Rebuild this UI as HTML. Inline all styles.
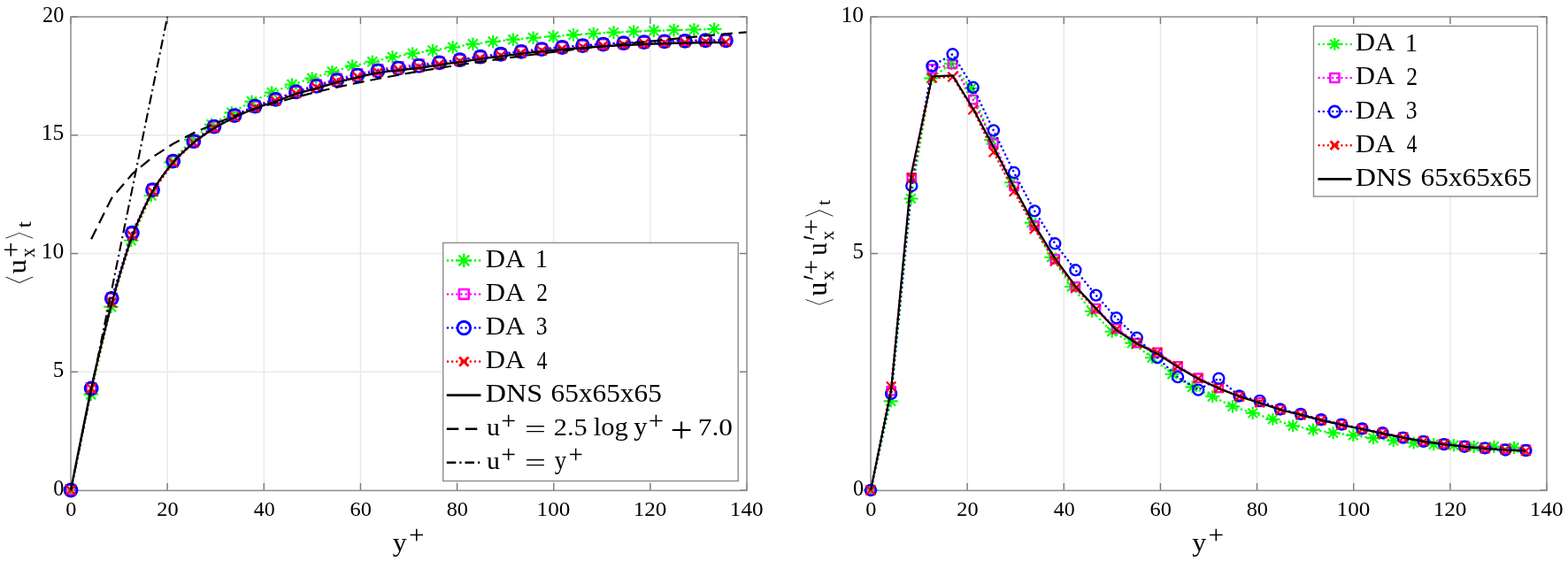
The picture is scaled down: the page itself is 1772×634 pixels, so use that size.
<!DOCTYPE html>
<html><head><meta charset="utf-8"><title>plot</title>
<style>html,body{margin:0;padding:0;background:#fff;overflow:hidden;}svg{display:block;}</style>
</head><body>
<svg width="1772" height="634" viewBox="0 0 1772 634">
<rect x="0" y="0" width="1772" height="634" fill="#fff"/>
<line x1="189.14" y1="19.00" x2="189.14" y2="554.00" stroke="#e8e8e8" stroke-width="1.4"/>
<line x1="298.29" y1="19.00" x2="298.29" y2="554.00" stroke="#e8e8e8" stroke-width="1.4"/>
<line x1="407.43" y1="19.00" x2="407.43" y2="554.00" stroke="#e8e8e8" stroke-width="1.4"/>
<line x1="516.57" y1="19.00" x2="516.57" y2="554.00" stroke="#e8e8e8" stroke-width="1.4"/>
<line x1="625.71" y1="19.00" x2="625.71" y2="554.00" stroke="#e8e8e8" stroke-width="1.4"/>
<line x1="734.86" y1="19.00" x2="734.86" y2="554.00" stroke="#e8e8e8" stroke-width="1.4"/>
<line x1="80.00" y1="420.25" x2="844.00" y2="420.25" stroke="#e8e8e8" stroke-width="1.4"/>
<line x1="80.00" y1="286.50" x2="844.00" y2="286.50" stroke="#e8e8e8" stroke-width="1.4"/>
<line x1="80.00" y1="152.75" x2="844.00" y2="152.75" stroke="#e8e8e8" stroke-width="1.4"/>
<line x1="80.00" y1="554.00" x2="80.00" y2="546.00" stroke="#7a7a7a" stroke-width="1.4"/>
<line x1="80.00" y1="19.00" x2="80.00" y2="27.00" stroke="#7a7a7a" stroke-width="1.4"/>
<text transform="translate(74.24 583.23) scale(1.0095 1)" font-size="24.00" font-family='"Liberation Serif", serif' fill="#000">0</text>
<line x1="189.14" y1="554.00" x2="189.14" y2="546.00" stroke="#7a7a7a" stroke-width="1.4"/>
<line x1="189.14" y1="19.00" x2="189.14" y2="27.00" stroke="#7a7a7a" stroke-width="1.4"/>
<text transform="translate(177.28 583.23) scale(1.0133 1)" font-size="24.00" font-family='"Liberation Serif", serif' fill="#000">20</text>
<line x1="298.29" y1="554.00" x2="298.29" y2="546.00" stroke="#7a7a7a" stroke-width="1.4"/>
<line x1="298.29" y1="19.00" x2="298.29" y2="27.00" stroke="#7a7a7a" stroke-width="1.4"/>
<text transform="translate(286.81 583.23) scale(0.9967 1)" font-size="24.00" font-family='"Liberation Serif", serif' fill="#000">40</text>
<line x1="407.43" y1="554.00" x2="407.43" y2="546.00" stroke="#7a7a7a" stroke-width="1.4"/>
<line x1="407.43" y1="19.00" x2="407.43" y2="27.00" stroke="#7a7a7a" stroke-width="1.4"/>
<text transform="translate(395.57 583.23) scale(1.0133 1)" font-size="24.00" font-family='"Liberation Serif", serif' fill="#000">60</text>
<line x1="516.57" y1="554.00" x2="516.57" y2="546.00" stroke="#7a7a7a" stroke-width="1.4"/>
<line x1="516.57" y1="19.00" x2="516.57" y2="27.00" stroke="#7a7a7a" stroke-width="1.4"/>
<text transform="translate(504.71 583.23) scale(1.0133 1)" font-size="24.00" font-family='"Liberation Serif", serif' fill="#000">80</text>
<line x1="625.71" y1="554.00" x2="625.71" y2="546.00" stroke="#7a7a7a" stroke-width="1.4"/>
<line x1="625.71" y1="19.00" x2="625.71" y2="27.00" stroke="#7a7a7a" stroke-width="1.4"/>
<text transform="translate(606.55 583.23) scale(1.0487 1)" font-size="24.00" font-family='"Liberation Serif", serif' fill="#000">100</text>
<line x1="734.86" y1="554.00" x2="734.86" y2="546.00" stroke="#7a7a7a" stroke-width="1.4"/>
<line x1="734.86" y1="19.00" x2="734.86" y2="27.00" stroke="#7a7a7a" stroke-width="1.4"/>
<text transform="translate(715.69 583.23) scale(1.0487 1)" font-size="24.00" font-family='"Liberation Serif", serif' fill="#000">120</text>
<line x1="844.00" y1="554.00" x2="844.00" y2="546.00" stroke="#7a7a7a" stroke-width="1.4"/>
<line x1="844.00" y1="19.00" x2="844.00" y2="27.00" stroke="#7a7a7a" stroke-width="1.4"/>
<text transform="translate(824.83 583.23) scale(1.0487 1)" font-size="24.00" font-family='"Liberation Serif", serif' fill="#000">140</text>
<line x1="80.00" y1="554.00" x2="88.00" y2="554.00" stroke="#7a7a7a" stroke-width="1.4"/>
<line x1="844.00" y1="554.00" x2="836.00" y2="554.00" stroke="#7a7a7a" stroke-width="1.4"/>
<text transform="translate(60.24 559.61) scale(0.9741 1)" font-size="24.87" font-family='"Liberation Serif", serif' fill="#000">0</text>
<line x1="80.00" y1="420.25" x2="88.00" y2="420.25" stroke="#7a7a7a" stroke-width="1.4"/>
<line x1="844.00" y1="420.25" x2="836.00" y2="420.25" stroke="#7a7a7a" stroke-width="1.4"/>
<text transform="translate(59.82 425.85) scale(0.9872 1)" font-size="25.45" font-family='"Liberation Serif", serif' fill="#000">5</text>
<line x1="80.00" y1="286.50" x2="88.00" y2="286.50" stroke="#7a7a7a" stroke-width="1.4"/>
<line x1="844.00" y1="286.50" x2="836.00" y2="286.50" stroke="#7a7a7a" stroke-width="1.4"/>
<text transform="translate(46.80 292.11) scale(1.0292 1)" font-size="24.87" font-family='"Liberation Serif", serif' fill="#000">10</text>
<line x1="80.00" y1="152.75" x2="88.00" y2="152.75" stroke="#7a7a7a" stroke-width="1.4"/>
<line x1="844.00" y1="152.75" x2="836.00" y2="152.75" stroke="#7a7a7a" stroke-width="1.4"/>
<text transform="translate(46.80 158.36) scale(1.0292 1)" font-size="24.87" font-family='"Liberation Serif", serif' fill="#000">15</text>
<line x1="80.00" y1="19.00" x2="88.00" y2="19.00" stroke="#7a7a7a" stroke-width="1.4"/>
<line x1="844.00" y1="19.00" x2="836.00" y2="19.00" stroke="#7a7a7a" stroke-width="1.4"/>
<text transform="translate(48.04 24.61) scale(0.9778 1)" font-size="24.87" font-family='"Liberation Serif", serif' fill="#000">20</text>
<rect x="80.00" y="19.00" width="764.00" height="535.40" fill="none" stroke="#8c8c8c" stroke-width="1.5"/>
<g><polyline points="80.00,554.00 102.72,445.66 125.44,346.69 148.17,271.79 170.89,220.96 193.61,183.51 216.33,158.10 239.05,140.71 261.77,127.34 284.50,114.76 307.22,104.60 329.94,95.50 352.66,88.55 375.38,81.06 398.11,74.64 420.83,69.82 443.55,64.48 466.27,60.46 488.99,56.99 511.71,53.51 534.44,49.76 557.16,47.09 579.88,44.68 602.60,42.81 625.32,41.20 648.04,39.33 670.77,37.99 693.49,36.65 716.21,35.59 738.93,34.78 761.65,33.98 784.38,33.44 807.10,32.91" fill="none" stroke="#00ff00" stroke-width="2.50" stroke-dasharray="0.01 5.15" stroke-linecap="round" stroke-linejoin="round"/>
<path d="M71.68 554.00L88.32 554.00M80.00 546.70L80.00 561.30M74.53 548.52L85.47 559.48M74.53 559.48L85.47 548.52" stroke="#00ff00" stroke-width="2.10"/>
<path d="M94.40 445.66L111.04 445.66M102.72 438.36L102.72 452.96M97.25 440.19L108.20 451.14M97.25 451.14L108.20 440.19" stroke="#00ff00" stroke-width="2.10"/>
<path d="M117.12 346.69L133.77 346.69M125.44 339.39L125.44 353.99M119.97 341.21L130.92 352.16M119.97 352.16L130.92 341.21" stroke="#00ff00" stroke-width="2.10"/>
<path d="M139.84 271.79L156.49 271.79M148.17 264.49L148.17 279.09M142.69 266.31L153.64 277.26M142.69 277.26L153.64 266.31" stroke="#00ff00" stroke-width="2.10"/>
<path d="M162.57 220.96L179.21 220.96M170.89 213.66L170.89 228.26M165.41 215.49L176.36 226.44M165.41 226.44L176.36 215.49" stroke="#00ff00" stroke-width="2.10"/>
<path d="M185.29 183.51L201.93 183.51M193.61 176.21L193.61 190.81M188.13 178.04L199.08 188.99M188.13 188.99L199.08 178.04" stroke="#00ff00" stroke-width="2.10"/>
<path d="M208.01 158.10L224.65 158.10M216.33 150.80L216.33 165.40M210.86 152.63L221.81 163.58M210.86 163.58L221.81 152.63" stroke="#00ff00" stroke-width="2.10"/>
<path d="M230.73 140.71L247.37 140.71M239.05 133.41L239.05 148.01M233.58 135.24L244.53 146.19M233.58 146.19L244.53 135.24" stroke="#00ff00" stroke-width="2.10"/>
<path d="M253.45 127.34L270.10 127.34M261.77 120.04L261.77 134.64M256.30 121.86L267.25 132.81M256.30 132.81L267.25 121.86" stroke="#00ff00" stroke-width="2.10"/>
<path d="M276.17 114.76L292.82 114.76M284.50 107.46L284.50 122.06M279.02 109.29L289.97 120.24M279.02 120.24L289.97 109.29" stroke="#00ff00" stroke-width="2.10"/>
<path d="M298.90 104.60L315.54 104.60M307.22 97.30L307.22 111.90M301.74 99.13L312.69 110.08M301.74 110.08L312.69 99.13" stroke="#00ff00" stroke-width="2.10"/>
<path d="M321.62 95.50L338.26 95.50M329.94 88.20L329.94 102.80M324.46 90.03L335.41 100.98M324.46 100.98L335.41 90.03" stroke="#00ff00" stroke-width="2.10"/>
<path d="M344.34 88.55L360.98 88.55M352.66 81.25L352.66 95.85M347.19 83.08L358.14 94.03M347.19 94.03L358.14 83.08" stroke="#00ff00" stroke-width="2.10"/>
<path d="M367.06 81.06L383.71 81.06M375.38 73.76L375.38 88.36M369.91 75.59L380.86 86.54M369.91 86.54L380.86 75.59" stroke="#00ff00" stroke-width="2.10"/>
<path d="M389.78 74.64L406.43 74.64M398.11 67.34L398.11 81.94M392.63 69.16L403.58 80.11M392.63 80.11L403.58 69.16" stroke="#00ff00" stroke-width="2.10"/>
<path d="M412.50 69.82L429.15 69.82M420.83 62.52L420.83 77.12M415.35 64.35L426.30 75.30M415.35 75.30L426.30 64.35" stroke="#00ff00" stroke-width="2.10"/>
<path d="M435.23 64.48L451.87 64.48M443.55 57.18L443.55 71.78M438.07 59.00L449.02 69.95M438.07 69.95L449.02 59.00" stroke="#00ff00" stroke-width="2.10"/>
<path d="M457.95 60.46L474.59 60.46M466.27 53.16L466.27 67.76M460.80 54.99L471.75 65.94M460.80 65.94L471.75 54.99" stroke="#00ff00" stroke-width="2.10"/>
<path d="M480.67 56.99L497.31 56.99M488.99 49.69L488.99 64.29M483.52 51.51L494.47 62.46M483.52 62.46L494.47 51.51" stroke="#00ff00" stroke-width="2.10"/>
<path d="M503.39 53.51L520.04 53.51M511.71 46.21L511.71 60.81M506.24 48.03L517.19 58.98M506.24 58.98L517.19 48.03" stroke="#00ff00" stroke-width="2.10"/>
<path d="M526.11 49.76L542.76 49.76M534.44 42.46L534.44 57.06M528.96 44.29L539.91 55.24M528.96 55.24L539.91 44.29" stroke="#00ff00" stroke-width="2.10"/>
<path d="M548.84 47.09L565.48 47.09M557.16 39.79L557.16 54.39M551.68 41.61L562.63 52.56M551.68 52.56L562.63 41.61" stroke="#00ff00" stroke-width="2.10"/>
<path d="M571.56 44.68L588.20 44.68M579.88 37.38L579.88 51.98M574.40 39.21L585.35 50.16M574.40 50.16L585.35 39.21" stroke="#00ff00" stroke-width="2.10"/>
<path d="M594.28 42.81L610.92 42.81M602.60 35.51L602.60 50.11M597.13 37.33L608.08 48.28M597.13 48.28L608.08 37.33" stroke="#00ff00" stroke-width="2.10"/>
<path d="M617.00 41.20L633.65 41.20M625.32 33.90L625.32 48.50M619.85 35.73L630.80 46.68M619.85 46.68L630.80 35.73" stroke="#00ff00" stroke-width="2.10"/>
<path d="M639.72 39.33L656.37 39.33M648.04 32.03L648.04 46.63M642.57 33.86L653.52 44.81M642.57 44.81L653.52 33.86" stroke="#00ff00" stroke-width="2.10"/>
<path d="M662.44 37.99L679.09 37.99M670.77 30.69L670.77 45.29M665.29 32.52L676.24 43.47M665.29 43.47L676.24 32.52" stroke="#00ff00" stroke-width="2.10"/>
<path d="M685.17 36.65L701.81 36.65M693.49 29.35L693.49 43.95M688.01 31.18L698.96 42.13M688.01 42.13L698.96 31.18" stroke="#00ff00" stroke-width="2.10"/>
<path d="M707.89 35.59L724.53 35.59M716.21 28.29L716.21 42.89M710.74 30.11L721.69 41.06M710.74 41.06L721.69 30.11" stroke="#00ff00" stroke-width="2.10"/>
<path d="M730.61 34.78L747.25 34.78M738.93 27.48L738.93 42.08M733.46 29.31L744.41 40.26M733.46 40.26L744.41 29.31" stroke="#00ff00" stroke-width="2.10"/>
<path d="M753.33 33.98L769.98 33.98M761.65 26.68L761.65 41.28M756.18 28.50L767.13 39.45M756.18 39.45L767.13 28.50" stroke="#00ff00" stroke-width="2.10"/>
<path d="M776.05 33.44L792.70 33.44M784.38 26.14L784.38 40.74M778.90 27.97L789.85 38.92M778.90 38.92L789.85 27.97" stroke="#00ff00" stroke-width="2.10"/>
<path d="M798.78 32.91L815.42 32.91M807.10 25.61L807.10 40.21M801.62 27.43L812.57 38.38M801.62 38.38L812.57 27.43" stroke="#00ff00" stroke-width="2.10"/>
<polyline points="80.00,553.47 103.14,438.44 126.28,336.79 149.41,262.69 172.55,214.01 195.69,181.64 218.83,159.17 241.97,142.59 265.11,130.01 288.24,119.58 311.38,111.82 334.52,103.26 357.66,95.77 380.80,89.09 403.94,83.47 427.07,78.39 450.21,75.44 473.35,72.77 496.49,70.36 519.63,67.15 542.77,63.67 565.90,60.73 589.04,57.79 612.18,55.11 635.32,52.97 658.46,51.10 681.60,49.50 704.73,48.16 727.87,47.09 751.01,46.28 774.15,45.75 797.29,45.22 820.43,45.22" fill="none" stroke="#ff00ff" stroke-width="2.50" stroke-dasharray="0.01 5.15" stroke-linecap="round" stroke-linejoin="round"/>
<rect x="74.70" y="548.17" width="10.60" height="10.60" fill="none" stroke="#ff00ff" stroke-width="2.40" stroke-linejoin="round"/>
<rect x="97.84" y="433.14" width="10.60" height="10.60" fill="none" stroke="#ff00ff" stroke-width="2.40" stroke-linejoin="round"/>
<rect x="120.98" y="331.49" width="10.60" height="10.60" fill="none" stroke="#ff00ff" stroke-width="2.40" stroke-linejoin="round"/>
<rect x="144.11" y="257.39" width="10.60" height="10.60" fill="none" stroke="#ff00ff" stroke-width="2.40" stroke-linejoin="round"/>
<rect x="167.25" y="208.71" width="10.60" height="10.60" fill="none" stroke="#ff00ff" stroke-width="2.40" stroke-linejoin="round"/>
<rect x="190.39" y="176.34" width="10.60" height="10.60" fill="none" stroke="#ff00ff" stroke-width="2.40" stroke-linejoin="round"/>
<rect x="213.53" y="153.87" width="10.60" height="10.60" fill="none" stroke="#ff00ff" stroke-width="2.40" stroke-linejoin="round"/>
<rect x="236.67" y="137.29" width="10.60" height="10.60" fill="none" stroke="#ff00ff" stroke-width="2.40" stroke-linejoin="round"/>
<rect x="259.81" y="124.71" width="10.60" height="10.60" fill="none" stroke="#ff00ff" stroke-width="2.40" stroke-linejoin="round"/>
<rect x="282.94" y="114.28" width="10.60" height="10.60" fill="none" stroke="#ff00ff" stroke-width="2.40" stroke-linejoin="round"/>
<rect x="306.08" y="106.52" width="10.60" height="10.60" fill="none" stroke="#ff00ff" stroke-width="2.40" stroke-linejoin="round"/>
<rect x="329.22" y="97.96" width="10.60" height="10.60" fill="none" stroke="#ff00ff" stroke-width="2.40" stroke-linejoin="round"/>
<rect x="352.36" y="90.47" width="10.60" height="10.60" fill="none" stroke="#ff00ff" stroke-width="2.40" stroke-linejoin="round"/>
<rect x="375.50" y="83.79" width="10.60" height="10.60" fill="none" stroke="#ff00ff" stroke-width="2.40" stroke-linejoin="round"/>
<rect x="398.64" y="78.17" width="10.60" height="10.60" fill="none" stroke="#ff00ff" stroke-width="2.40" stroke-linejoin="round"/>
<rect x="421.77" y="73.09" width="10.60" height="10.60" fill="none" stroke="#ff00ff" stroke-width="2.40" stroke-linejoin="round"/>
<rect x="444.91" y="70.14" width="10.60" height="10.60" fill="none" stroke="#ff00ff" stroke-width="2.40" stroke-linejoin="round"/>
<rect x="468.05" y="67.47" width="10.60" height="10.60" fill="none" stroke="#ff00ff" stroke-width="2.40" stroke-linejoin="round"/>
<rect x="491.19" y="65.06" width="10.60" height="10.60" fill="none" stroke="#ff00ff" stroke-width="2.40" stroke-linejoin="round"/>
<rect x="514.33" y="61.85" width="10.60" height="10.60" fill="none" stroke="#ff00ff" stroke-width="2.40" stroke-linejoin="round"/>
<rect x="537.47" y="58.37" width="10.60" height="10.60" fill="none" stroke="#ff00ff" stroke-width="2.40" stroke-linejoin="round"/>
<rect x="560.60" y="55.43" width="10.60" height="10.60" fill="none" stroke="#ff00ff" stroke-width="2.40" stroke-linejoin="round"/>
<rect x="583.74" y="52.49" width="10.60" height="10.60" fill="none" stroke="#ff00ff" stroke-width="2.40" stroke-linejoin="round"/>
<rect x="606.88" y="49.81" width="10.60" height="10.60" fill="none" stroke="#ff00ff" stroke-width="2.40" stroke-linejoin="round"/>
<rect x="630.02" y="47.67" width="10.60" height="10.60" fill="none" stroke="#ff00ff" stroke-width="2.40" stroke-linejoin="round"/>
<rect x="653.16" y="45.80" width="10.60" height="10.60" fill="none" stroke="#ff00ff" stroke-width="2.40" stroke-linejoin="round"/>
<rect x="676.30" y="44.20" width="10.60" height="10.60" fill="none" stroke="#ff00ff" stroke-width="2.40" stroke-linejoin="round"/>
<rect x="699.43" y="42.86" width="10.60" height="10.60" fill="none" stroke="#ff00ff" stroke-width="2.40" stroke-linejoin="round"/>
<rect x="722.57" y="41.79" width="10.60" height="10.60" fill="none" stroke="#ff00ff" stroke-width="2.40" stroke-linejoin="round"/>
<rect x="745.71" y="40.98" width="10.60" height="10.60" fill="none" stroke="#ff00ff" stroke-width="2.40" stroke-linejoin="round"/>
<rect x="768.85" y="40.45" width="10.60" height="10.60" fill="none" stroke="#ff00ff" stroke-width="2.40" stroke-linejoin="round"/>
<rect x="791.99" y="39.92" width="10.60" height="10.60" fill="none" stroke="#ff00ff" stroke-width="2.40" stroke-linejoin="round"/>
<rect x="815.13" y="39.92" width="10.60" height="10.60" fill="none" stroke="#ff00ff" stroke-width="2.40" stroke-linejoin="round"/>
<polyline points="80.00,554.00 103.14,438.98 126.28,337.32 149.41,263.23 172.55,214.54 195.69,182.18 218.83,159.70 241.97,143.12 265.11,130.55 288.24,120.12 311.38,112.36 334.52,103.80 357.66,97.38 380.80,90.69 403.94,85.07 427.07,79.99 450.21,77.05 473.35,74.37 496.49,70.90 519.63,67.69 542.77,64.21 565.90,61.26 589.04,58.32 612.18,55.65 635.32,53.51 658.46,51.63 681.60,50.03 704.73,48.69 727.87,47.62 751.01,46.82 774.15,46.28 797.29,45.75 820.43,45.75" fill="none" stroke="#0000ff" stroke-width="2.50" stroke-dasharray="0.01 5.15" stroke-linecap="round" stroke-linejoin="round"/>
<circle cx="80.00" cy="554.00" r="7.10" fill="none" stroke="#0000ff" stroke-width="2.60"/>
<circle cx="103.14" cy="438.98" r="7.10" fill="none" stroke="#0000ff" stroke-width="2.60"/>
<circle cx="126.28" cy="337.32" r="7.10" fill="none" stroke="#0000ff" stroke-width="2.60"/>
<circle cx="149.41" cy="263.23" r="7.10" fill="none" stroke="#0000ff" stroke-width="2.60"/>
<circle cx="172.55" cy="214.54" r="7.10" fill="none" stroke="#0000ff" stroke-width="2.60"/>
<circle cx="195.69" cy="182.18" r="7.10" fill="none" stroke="#0000ff" stroke-width="2.60"/>
<circle cx="218.83" cy="159.70" r="7.10" fill="none" stroke="#0000ff" stroke-width="2.60"/>
<circle cx="241.97" cy="143.12" r="7.10" fill="none" stroke="#0000ff" stroke-width="2.60"/>
<circle cx="265.11" cy="130.55" r="7.10" fill="none" stroke="#0000ff" stroke-width="2.60"/>
<circle cx="288.24" cy="120.12" r="7.10" fill="none" stroke="#0000ff" stroke-width="2.60"/>
<circle cx="311.38" cy="112.36" r="7.10" fill="none" stroke="#0000ff" stroke-width="2.60"/>
<circle cx="334.52" cy="103.80" r="7.10" fill="none" stroke="#0000ff" stroke-width="2.60"/>
<circle cx="357.66" cy="97.38" r="7.10" fill="none" stroke="#0000ff" stroke-width="2.60"/>
<circle cx="380.80" cy="90.69" r="7.10" fill="none" stroke="#0000ff" stroke-width="2.60"/>
<circle cx="403.94" cy="85.07" r="7.10" fill="none" stroke="#0000ff" stroke-width="2.60"/>
<circle cx="427.07" cy="79.99" r="7.10" fill="none" stroke="#0000ff" stroke-width="2.60"/>
<circle cx="450.21" cy="77.05" r="7.10" fill="none" stroke="#0000ff" stroke-width="2.60"/>
<circle cx="473.35" cy="74.37" r="7.10" fill="none" stroke="#0000ff" stroke-width="2.60"/>
<circle cx="496.49" cy="70.90" r="7.10" fill="none" stroke="#0000ff" stroke-width="2.60"/>
<circle cx="519.63" cy="67.69" r="7.10" fill="none" stroke="#0000ff" stroke-width="2.60"/>
<circle cx="542.77" cy="64.21" r="7.10" fill="none" stroke="#0000ff" stroke-width="2.60"/>
<circle cx="565.90" cy="61.26" r="7.10" fill="none" stroke="#0000ff" stroke-width="2.60"/>
<circle cx="589.04" cy="58.32" r="7.10" fill="none" stroke="#0000ff" stroke-width="2.60"/>
<circle cx="612.18" cy="55.65" r="7.10" fill="none" stroke="#0000ff" stroke-width="2.60"/>
<circle cx="635.32" cy="53.51" r="7.10" fill="none" stroke="#0000ff" stroke-width="2.60"/>
<circle cx="658.46" cy="51.63" r="7.10" fill="none" stroke="#0000ff" stroke-width="2.60"/>
<circle cx="681.60" cy="50.03" r="7.10" fill="none" stroke="#0000ff" stroke-width="2.60"/>
<circle cx="704.73" cy="48.69" r="7.10" fill="none" stroke="#0000ff" stroke-width="2.60"/>
<circle cx="727.87" cy="47.62" r="7.10" fill="none" stroke="#0000ff" stroke-width="2.60"/>
<circle cx="751.01" cy="46.82" r="7.10" fill="none" stroke="#0000ff" stroke-width="2.60"/>
<circle cx="774.15" cy="46.28" r="7.10" fill="none" stroke="#0000ff" stroke-width="2.60"/>
<circle cx="797.29" cy="45.75" r="7.10" fill="none" stroke="#0000ff" stroke-width="2.60"/>
<circle cx="820.43" cy="45.75" r="7.10" fill="none" stroke="#0000ff" stroke-width="2.60"/>
<polyline points="80.00,554.00 103.14,438.98 126.28,342.14 149.41,266.44 172.55,216.68 195.69,183.78 218.83,161.31 241.97,144.73 265.11,132.15 288.24,121.72 311.38,113.96 334.52,105.40 357.66,98.98 380.80,92.29 403.94,86.68 427.07,81.59 450.21,78.65 473.35,75.98 496.49,72.50 519.63,69.29 542.77,65.81 565.90,62.87 589.04,59.93 612.18,57.25 635.32,55.11 658.46,53.24 681.60,51.63 704.73,50.30 727.87,49.23 751.01,48.42 774.15,47.89 797.29,47.35 820.43,47.35" fill="none" stroke="#ff0000" stroke-width="2.50" stroke-dasharray="0.01 5.15" stroke-linecap="round" stroke-linejoin="round"/>
<path d="M74.60 548.60L85.40 559.40M74.60 559.40L85.40 548.60" stroke="#ff0000" stroke-width="2.20"/>
<path d="M97.74 433.58L108.54 444.38M97.74 444.38L108.54 433.58" stroke="#ff0000" stroke-width="2.20"/>
<path d="M120.88 336.74L131.68 347.54M120.88 347.54L131.68 336.74" stroke="#ff0000" stroke-width="2.20"/>
<path d="M144.01 261.04L154.81 271.84M144.01 271.84L154.81 261.04" stroke="#ff0000" stroke-width="2.20"/>
<path d="M167.15 211.28L177.95 222.08M167.15 222.08L177.95 211.28" stroke="#ff0000" stroke-width="2.20"/>
<path d="M190.29 178.38L201.09 189.18M190.29 189.18L201.09 178.38" stroke="#ff0000" stroke-width="2.20"/>
<path d="M213.43 155.91L224.23 166.71M213.43 166.71L224.23 155.91" stroke="#ff0000" stroke-width="2.20"/>
<path d="M236.57 139.33L247.37 150.13M236.57 150.13L247.37 139.33" stroke="#ff0000" stroke-width="2.20"/>
<path d="M259.71 126.75L270.51 137.55M259.71 137.55L270.51 126.75" stroke="#ff0000" stroke-width="2.20"/>
<path d="M282.84 116.32L293.64 127.12M282.84 127.12L293.64 116.32" stroke="#ff0000" stroke-width="2.20"/>
<path d="M305.98 108.56L316.78 119.36M305.98 119.36L316.78 108.56" stroke="#ff0000" stroke-width="2.20"/>
<path d="M329.12 100.00L339.92 110.80M329.12 110.80L339.92 100.00" stroke="#ff0000" stroke-width="2.20"/>
<path d="M352.26 93.58L363.06 104.38M352.26 104.38L363.06 93.58" stroke="#ff0000" stroke-width="2.20"/>
<path d="M375.40 86.89L386.20 97.69M375.40 97.69L386.20 86.89" stroke="#ff0000" stroke-width="2.20"/>
<path d="M398.54 81.28L409.34 92.08M398.54 92.08L409.34 81.28" stroke="#ff0000" stroke-width="2.20"/>
<path d="M421.67 76.19L432.47 86.99M421.67 86.99L432.47 76.19" stroke="#ff0000" stroke-width="2.20"/>
<path d="M444.81 73.25L455.61 84.05M444.81 84.05L455.61 73.25" stroke="#ff0000" stroke-width="2.20"/>
<path d="M467.95 70.58L478.75 81.38M467.95 81.38L478.75 70.58" stroke="#ff0000" stroke-width="2.20"/>
<path d="M491.09 67.10L501.89 77.90M491.09 77.90L501.89 67.10" stroke="#ff0000" stroke-width="2.20"/>
<path d="M514.23 63.89L525.03 74.69M514.23 74.69L525.03 63.89" stroke="#ff0000" stroke-width="2.20"/>
<path d="M537.37 60.41L548.17 71.21M537.37 71.21L548.17 60.41" stroke="#ff0000" stroke-width="2.20"/>
<path d="M560.50 57.47L571.30 68.27M560.50 68.27L571.30 57.47" stroke="#ff0000" stroke-width="2.20"/>
<path d="M583.64 54.53L594.44 65.33M583.64 65.33L594.44 54.53" stroke="#ff0000" stroke-width="2.20"/>
<path d="M606.78 51.85L617.58 62.65M606.78 62.65L617.58 51.85" stroke="#ff0000" stroke-width="2.20"/>
<path d="M629.92 49.71L640.72 60.51M629.92 60.51L640.72 49.71" stroke="#ff0000" stroke-width="2.20"/>
<path d="M653.06 47.84L663.86 58.64M653.06 58.64L663.86 47.84" stroke="#ff0000" stroke-width="2.20"/>
<path d="M676.20 46.23L687.00 57.03M676.20 57.03L687.00 46.23" stroke="#ff0000" stroke-width="2.20"/>
<path d="M699.33 44.90L710.13 55.70M699.33 55.70L710.13 44.90" stroke="#ff0000" stroke-width="2.20"/>
<path d="M722.47 43.83L733.27 54.63M722.47 54.63L733.27 43.83" stroke="#ff0000" stroke-width="2.20"/>
<path d="M745.61 43.02L756.41 53.82M745.61 53.82L756.41 43.02" stroke="#ff0000" stroke-width="2.20"/>
<path d="M768.75 42.49L779.55 53.29M768.75 53.29L779.55 42.49" stroke="#ff0000" stroke-width="2.20"/>
<path d="M791.89 41.95L802.69 52.75M791.89 52.75L802.69 41.95" stroke="#ff0000" stroke-width="2.20"/>
<path d="M815.03 41.95L825.83 52.75M815.03 52.75L825.83 41.95" stroke="#ff0000" stroke-width="2.20"/>
<path d="M80.00 554.00C87.71 515.66 95.43 474.11 103.14 438.98C110.85 403.84 118.56 371.88 126.28 343.21C133.99 314.54 141.70 288.15 149.41 266.97C157.13 245.80 164.84 230.06 172.55 216.15C180.27 202.24 187.98 192.65 195.69 183.51C203.40 174.37 211.12 167.73 218.83 161.31C226.54 154.89 234.26 149.76 241.97 144.99C249.68 140.22 257.39 136.43 265.11 132.69C272.82 128.94 280.53 125.51 288.24 122.52C295.96 119.54 303.67 117.48 311.38 114.76C319.10 112.05 326.81 108.70 334.52 106.21C342.23 103.71 349.95 101.97 357.66 99.78C365.37 97.60 373.08 95.15 380.80 93.10C388.51 91.05 396.22 89.26 403.94 87.48C411.65 85.70 419.36 83.74 427.07 82.40C434.79 81.06 442.50 80.39 450.21 79.46C457.93 78.52 465.64 77.81 473.35 76.78C481.06 75.75 488.78 74.42 496.49 73.30C504.20 72.19 511.91 71.21 519.63 70.09C527.34 68.98 535.05 67.69 542.77 66.62C550.48 65.55 558.19 64.65 565.90 63.67C573.62 62.69 581.33 61.67 589.04 60.73C596.76 59.79 604.47 58.86 612.18 58.06C619.89 57.25 627.61 56.58 635.32 55.91C643.03 55.25 650.74 54.62 658.46 54.04C666.17 53.46 673.88 52.93 681.60 52.44C689.31 51.95 697.02 51.50 704.73 51.10C712.45 50.70 720.16 50.34 727.87 50.03C735.58 49.72 743.30 49.45 751.01 49.23C758.72 49.00 766.44 48.87 774.15 48.69C781.86 48.51 789.57 48.25 797.29 48.16C805.00 48.07 812.71 48.16 820.43 48.16" fill="none" stroke="#000" stroke-width="2.3" stroke-linejoin="round"/>
<polyline points="103.14,270.14 126.28,223.79 149.41,196.68 172.55,177.44 195.69,162.51 218.83,150.32 241.97,140.01 265.11,131.08 288.24,123.21 311.38,116.16 334.52,109.79 357.66,103.97 380.80,98.61 403.94,93.66 427.07,89.04 450.21,84.73 473.35,80.67 496.49,76.85 519.63,73.24 542.77,69.81 565.90,66.54 589.04,63.43 612.18,60.46 635.32,57.61 658.46,54.88 681.60,52.26 704.73,49.74 727.87,47.30 751.01,44.96 774.15,42.69 797.29,40.50 820.43,38.37 843.56,36.32" fill="none" stroke="#000" stroke-width="2.2" stroke-dasharray="13 7" stroke-linejoin="round"/>
<polyline points="80.00,554.00 189.14,19.00" fill="none" stroke="#000" stroke-width="2.1" stroke-dasharray="11 4 2.2 4"/></g>
<rect x="500.7" y="274.4" width="333.5" height="269.2" fill="#fff" stroke="#8c8c8c" stroke-width="1.4"/>
<line x1="506.00" y1="294.40" x2="543.40" y2="294.40" stroke="#00ff00" stroke-width="2.60" stroke-dasharray="0.01 5.15" stroke-linecap="round"/>
<path d="M515.29 294.40L533.31 294.40M524.30 286.50L524.30 302.30M518.38 288.47L530.23 300.32M518.38 300.32L530.23 288.47" stroke="#00ff00" stroke-width="2.30"/>
<line x1="506.00" y1="332.47" x2="543.40" y2="332.47" stroke="#ff00ff" stroke-width="2.60" stroke-dasharray="0.01 5.15" stroke-linecap="round"/>
<rect x="518.90" y="327.07" width="10.80" height="10.80" fill="none" stroke="#ff00ff" stroke-width="2.60" stroke-linejoin="round"/>
<line x1="506.00" y1="370.54" x2="543.40" y2="370.54" stroke="#0000ff" stroke-width="2.60" stroke-dasharray="0.01 5.15" stroke-linecap="round"/>
<circle cx="524.30" cy="370.54" r="7.30" fill="none" stroke="#0000ff" stroke-width="2.90"/>
<line x1="506.00" y1="408.61" x2="543.40" y2="408.61" stroke="#ff0000" stroke-width="2.60" stroke-dasharray="0.01 5.15" stroke-linecap="round"/>
<path d="M519.10 403.41L529.50 413.81M519.10 413.81L529.50 403.41" stroke="#ff0000" stroke-width="2.90"/>
<line x1="504.80" y1="446.68" x2="543.40" y2="446.68" stroke="#000" stroke-width="2.80"/>
<line x1="504.80" y1="484.75" x2="543.40" y2="484.75" stroke="#000" stroke-width="2.60" stroke-dasharray="13.5 7.5"/>
<line x1="504.80" y1="522.82" x2="543.40" y2="522.82" stroke="#000" stroke-width="2.40" stroke-dasharray="10.5 4 2.2 4"/>
<text transform="translate(548.82 301.83) scale(1.0279 1)" font-size="29.96" font-family='"Liberation Serif", serif' fill="#000">DA</text>
<text transform="translate(604.75 302.30) scale(0.9872 1)" font-size="29.17" font-family='"Liberation Serif", serif' fill="#000">1</text>
<text transform="translate(548.82 339.90) scale(1.0279 1)" font-size="29.96" font-family='"Liberation Serif", serif' fill="#000">DA</text>
<text transform="translate(606.20 340.37) scale(0.8776 1)" font-size="29.17" font-family='"Liberation Serif", serif' fill="#000">2</text>
<text transform="translate(548.82 377.97) scale(1.0279 1)" font-size="29.96" font-family='"Liberation Serif", serif' fill="#000">DA</text>
<text transform="translate(605.80 377.99) scale(0.8980 1)" font-size="28.51" font-family='"Liberation Serif", serif' fill="#000">3</text>
<text transform="translate(548.82 416.04) scale(1.0279 1)" font-size="29.96" font-family='"Liberation Serif", serif' fill="#000">DA</text>
<text transform="translate(606.64 416.51) scale(0.7898 1)" font-size="29.17" font-family='"Liberation Serif", serif' fill="#000">4</text>
<text transform="translate(548.80 454.11) scale(1.0711 1)" font-size="29.96" font-family='"Liberation Serif", serif' fill="#000">DNS</text>
<text transform="translate(622.62 454.11) scale(1.0451 1)" font-size="29.96" font-family='"Liberation Serif", serif' fill="#000">65x65x65</text>
<text transform="translate(549.90 491.91) scale(1.0662 1)" font-size="28.08" font-family='"Liberation Serif", serif' fill="#000">u</text>
<text transform="translate(566.20 484.84) scale(1.0408 1)" font-size="28.70" font-family='"Liberation Serif", serif' fill="#000">+</text>
<text transform="translate(592.91 494.21) scale(1.5239 1)" font-size="27.86" font-family='"Liberation Serif", serif' fill="#000">=</text>
<text transform="translate(625.75 491.91) scale(1.0773 1)" font-size="28.22" font-family='"Liberation Serif", serif' fill="#000">2.5</text>
<text transform="translate(670.72 492.12) scale(1.0397 1)" font-size="29.40" font-family='"Liberation Serif", serif' fill="#000">log</text>
<text transform="translate(716.20 492.25) scale(1.0556 1)" font-size="28.80" font-family='"Liberation Serif", serif' fill="#000">y</text>
<text transform="translate(732.76 484.84) scale(1.0705 1)" font-size="28.70" font-family='"Liberation Serif", serif' fill="#000">+</text>
<text transform="translate(757.51 498.98) scale(1.0907 1)" font-size="40.88" font-family='"Liberation Serif", serif' fill="#000">+</text>
<text transform="translate(788.74 491.91) scale(1.1126 1)" font-size="28.22" font-family='"Liberation Serif", serif' fill="#000">7.0</text>
<text transform="translate(549.90 529.78) scale(1.0662 1)" font-size="28.08" font-family='"Liberation Serif", serif' fill="#000">u</text>
<text transform="translate(566.20 522.91) scale(1.0408 1)" font-size="28.70" font-family='"Liberation Serif", serif' fill="#000">+</text>
<text transform="translate(592.91 532.28) scale(1.5239 1)" font-size="27.86" font-family='"Liberation Serif", serif' fill="#000">=</text>
<text transform="translate(626.70 530.12) scale(0.9236 1)" font-size="28.80" font-family='"Liberation Serif", serif' fill="#000">y</text>
<text transform="translate(642.44 522.91) scale(1.0110 1)" font-size="28.70" font-family='"Liberation Serif", serif' fill="#000">+</text>
<text transform="translate(443.70 622.71) scale(1.0562 1)" font-size="30.11" font-family='"Liberation Serif", serif' fill="#000">y</text>
<text transform="translate(461.94 614.43) scale(1.0333 1)" font-size="30.14" font-family='"Liberation Serif", serif' fill="#000">+</text>
<g transform="translate(29.80 320.30) rotate(-90)"><text transform="translate(-8.56 5.14) scale(0.4954 1)" font-size="33.68" font-family='"Liberation Serif", "Noto Serif CJK SC", serif' fill="#000">〈</text>
<text transform="translate(10.90 -0.47) scale(1.0890 1)" font-size="30.14" font-family='"Liberation Serif", serif' fill="#000">u</text>
<text transform="translate(29.35 -7.30) scale(0.9989 1)" font-size="30.97" font-family='"Liberation Serif", serif' fill="#000">+</text>
<text transform="translate(29.40 8.90) scale(0.9375 1)" font-size="23.25" font-family='"Liberation Serif", serif' fill="#000">x</text>
<text transform="translate(50.34 5.14) scale(0.4411 1)" font-size="33.68" font-family='"Liberation Serif", "Noto Serif CJK SC", serif' fill="#000">〉</text>
<text transform="translate(62.70 5.04) scale(1.1487 1)" font-size="22.91" font-family='"Liberation Serif", serif' fill="#000">t</text></g>
<line x1="1093.14" y1="19.00" x2="1093.14" y2="554.00" stroke="#e8e8e8" stroke-width="1.4"/>
<line x1="1202.29" y1="19.00" x2="1202.29" y2="554.00" stroke="#e8e8e8" stroke-width="1.4"/>
<line x1="1311.43" y1="19.00" x2="1311.43" y2="554.00" stroke="#e8e8e8" stroke-width="1.4"/>
<line x1="1420.57" y1="19.00" x2="1420.57" y2="554.00" stroke="#e8e8e8" stroke-width="1.4"/>
<line x1="1529.71" y1="19.00" x2="1529.71" y2="554.00" stroke="#e8e8e8" stroke-width="1.4"/>
<line x1="1638.86" y1="19.00" x2="1638.86" y2="554.00" stroke="#e8e8e8" stroke-width="1.4"/>
<line x1="984.00" y1="286.50" x2="1748.00" y2="286.50" stroke="#e8e8e8" stroke-width="1.4"/>
<line x1="984.00" y1="554.00" x2="984.00" y2="546.00" stroke="#7a7a7a" stroke-width="1.4"/>
<line x1="984.00" y1="19.00" x2="984.00" y2="27.00" stroke="#7a7a7a" stroke-width="1.4"/>
<text transform="translate(978.24 583.23) scale(1.0095 1)" font-size="24.00" font-family='"Liberation Serif", serif' fill="#000">0</text>
<line x1="1093.14" y1="554.00" x2="1093.14" y2="546.00" stroke="#7a7a7a" stroke-width="1.4"/>
<line x1="1093.14" y1="19.00" x2="1093.14" y2="27.00" stroke="#7a7a7a" stroke-width="1.4"/>
<text transform="translate(1081.28 583.23) scale(1.0133 1)" font-size="24.00" font-family='"Liberation Serif", serif' fill="#000">20</text>
<line x1="1202.29" y1="554.00" x2="1202.29" y2="546.00" stroke="#7a7a7a" stroke-width="1.4"/>
<line x1="1202.29" y1="19.00" x2="1202.29" y2="27.00" stroke="#7a7a7a" stroke-width="1.4"/>
<text transform="translate(1190.81 583.23) scale(0.9967 1)" font-size="24.00" font-family='"Liberation Serif", serif' fill="#000">40</text>
<line x1="1311.43" y1="554.00" x2="1311.43" y2="546.00" stroke="#7a7a7a" stroke-width="1.4"/>
<line x1="1311.43" y1="19.00" x2="1311.43" y2="27.00" stroke="#7a7a7a" stroke-width="1.4"/>
<text transform="translate(1299.57 583.23) scale(1.0133 1)" font-size="24.00" font-family='"Liberation Serif", serif' fill="#000">60</text>
<line x1="1420.57" y1="554.00" x2="1420.57" y2="546.00" stroke="#7a7a7a" stroke-width="1.4"/>
<line x1="1420.57" y1="19.00" x2="1420.57" y2="27.00" stroke="#7a7a7a" stroke-width="1.4"/>
<text transform="translate(1408.71 583.23) scale(1.0133 1)" font-size="24.00" font-family='"Liberation Serif", serif' fill="#000">80</text>
<line x1="1529.71" y1="554.00" x2="1529.71" y2="546.00" stroke="#7a7a7a" stroke-width="1.4"/>
<line x1="1529.71" y1="19.00" x2="1529.71" y2="27.00" stroke="#7a7a7a" stroke-width="1.4"/>
<text transform="translate(1510.55 583.23) scale(1.0487 1)" font-size="24.00" font-family='"Liberation Serif", serif' fill="#000">100</text>
<line x1="1638.86" y1="554.00" x2="1638.86" y2="546.00" stroke="#7a7a7a" stroke-width="1.4"/>
<line x1="1638.86" y1="19.00" x2="1638.86" y2="27.00" stroke="#7a7a7a" stroke-width="1.4"/>
<text transform="translate(1619.69 583.23) scale(1.0487 1)" font-size="24.00" font-family='"Liberation Serif", serif' fill="#000">120</text>
<line x1="1748.00" y1="554.00" x2="1748.00" y2="546.00" stroke="#7a7a7a" stroke-width="1.4"/>
<line x1="1748.00" y1="19.00" x2="1748.00" y2="27.00" stroke="#7a7a7a" stroke-width="1.4"/>
<text transform="translate(1728.83 583.23) scale(1.0487 1)" font-size="24.00" font-family='"Liberation Serif", serif' fill="#000">140</text>
<line x1="984.00" y1="554.00" x2="992.00" y2="554.00" stroke="#7a7a7a" stroke-width="1.4"/>
<line x1="1748.00" y1="554.00" x2="1740.00" y2="554.00" stroke="#7a7a7a" stroke-width="1.4"/>
<text transform="translate(963.94 559.61) scale(0.9741 1)" font-size="24.87" font-family='"Liberation Serif", serif' fill="#000">0</text>
<line x1="984.00" y1="286.50" x2="992.00" y2="286.50" stroke="#7a7a7a" stroke-width="1.4"/>
<line x1="1748.00" y1="286.50" x2="1740.00" y2="286.50" stroke="#7a7a7a" stroke-width="1.4"/>
<text transform="translate(963.52 292.10) scale(0.9872 1)" font-size="25.45" font-family='"Liberation Serif", serif' fill="#000">5</text>
<line x1="984.00" y1="19.00" x2="992.00" y2="19.00" stroke="#7a7a7a" stroke-width="1.4"/>
<line x1="1748.00" y1="19.00" x2="1740.00" y2="19.00" stroke="#7a7a7a" stroke-width="1.4"/>
<text transform="translate(950.50 24.61) scale(1.0292 1)" font-size="24.87" font-family='"Liberation Serif", serif' fill="#000">10</text>
<rect x="984.00" y="19.00" width="764.00" height="535.40" fill="none" stroke="#8c8c8c" stroke-width="1.5"/>
<g><polyline points="984.00,554.00 1006.72,453.42 1029.44,224.44 1052.17,88.55 1074.89,71.97 1097.61,99.78 1120.33,158.10 1143.05,206.25 1165.77,251.73 1188.50,290.78 1211.22,323.95 1233.94,351.77 1256.66,374.77 1279.38,387.62 1302.11,404.20 1324.83,422.93 1347.55,437.37 1370.27,448.07 1392.99,459.31 1415.71,466.80 1438.44,473.75 1461.16,481.24 1483.88,485.52 1506.60,489.26 1529.32,491.94 1552.04,495.15 1574.77,497.82 1597.49,500.50 1620.21,502.11 1642.93,503.18 1665.65,504.78 1688.38,504.78 1711.10,505.85" fill="none" stroke="#00ff00" stroke-width="2.60" stroke-dasharray="0.01 5.15" stroke-linecap="round" stroke-linejoin="round"/>
<path d="M975.91 554.00L992.09 554.00M984.00 546.90L984.00 561.10M978.67 548.67L989.33 559.33M978.67 559.33L989.33 548.67" stroke="#00ff00" stroke-width="2.10"/>
<path d="M998.63 453.42L1014.82 453.42M1006.72 446.32L1006.72 460.52M1001.40 448.10L1012.05 458.75M1001.40 458.75L1012.05 448.10" stroke="#00ff00" stroke-width="2.10"/>
<path d="M1021.35 224.44L1037.54 224.44M1029.44 217.34L1029.44 231.54M1024.12 219.12L1034.77 229.76M1024.12 229.76L1034.77 219.12" stroke="#00ff00" stroke-width="2.10"/>
<path d="M1044.07 88.55L1060.26 88.55M1052.17 81.45L1052.17 95.65M1046.84 83.23L1057.49 93.88M1046.84 93.88L1057.49 83.23" stroke="#00ff00" stroke-width="2.10"/>
<path d="M1066.79 71.97L1082.98 71.97M1074.89 64.87L1074.89 79.07M1069.56 66.64L1080.21 77.29M1069.56 77.29L1080.21 66.64" stroke="#00ff00" stroke-width="2.10"/>
<path d="M1089.51 99.78L1105.70 99.78M1097.61 92.68L1097.61 106.88M1092.28 94.46L1102.93 105.11M1092.28 105.11L1102.93 94.46" stroke="#00ff00" stroke-width="2.10"/>
<path d="M1112.24 158.10L1128.42 158.10M1120.33 151.00L1120.33 165.20M1115.01 152.78L1125.66 163.43M1115.01 163.43L1125.66 152.78" stroke="#00ff00" stroke-width="2.10"/>
<path d="M1134.96 206.25L1151.15 206.25M1143.05 199.15L1143.05 213.35M1137.73 200.93L1148.38 211.57M1137.73 211.57L1148.38 200.93" stroke="#00ff00" stroke-width="2.10"/>
<path d="M1157.68 251.73L1173.87 251.73M1165.77 244.63L1165.77 258.83M1160.45 246.40L1171.10 257.05M1160.45 257.05L1171.10 246.40" stroke="#00ff00" stroke-width="2.10"/>
<path d="M1180.40 290.78L1196.59 290.78M1188.50 283.68L1188.50 297.88M1183.17 285.46L1193.82 296.11M1183.17 296.11L1193.82 285.46" stroke="#00ff00" stroke-width="2.10"/>
<path d="M1203.12 323.95L1219.31 323.95M1211.22 316.85L1211.22 331.05M1205.89 318.62L1216.54 329.27M1205.89 329.27L1216.54 318.62" stroke="#00ff00" stroke-width="2.10"/>
<path d="M1225.85 351.77L1242.03 351.77M1233.94 344.67L1233.94 358.87M1228.61 346.44L1239.26 357.09M1228.61 357.09L1239.26 346.44" stroke="#00ff00" stroke-width="2.10"/>
<path d="M1248.57 374.77L1264.76 374.77M1256.66 367.67L1256.66 381.88M1251.34 369.45L1261.99 380.10M1251.34 380.10L1261.99 369.45" stroke="#00ff00" stroke-width="2.10"/>
<path d="M1271.29 387.62L1287.48 387.62M1279.38 380.51L1279.38 394.72M1274.06 382.29L1284.71 392.94M1274.06 392.94L1284.71 382.29" stroke="#00ff00" stroke-width="2.10"/>
<path d="M1294.01 404.20L1310.20 404.20M1302.11 397.10L1302.11 411.30M1296.78 398.88L1307.43 409.52M1296.78 409.52L1307.43 398.88" stroke="#00ff00" stroke-width="2.10"/>
<path d="M1316.73 422.93L1332.92 422.93M1324.83 415.82L1324.83 430.03M1319.50 417.60L1330.15 428.25M1319.50 428.25L1330.15 417.60" stroke="#00ff00" stroke-width="2.10"/>
<path d="M1339.45 437.37L1355.64 437.37M1347.55 430.27L1347.55 444.47M1342.22 432.05L1352.87 442.69M1342.22 442.69L1352.87 432.05" stroke="#00ff00" stroke-width="2.10"/>
<path d="M1362.18 448.07L1378.36 448.07M1370.27 440.97L1370.27 455.17M1364.95 442.75L1375.60 453.39M1364.95 453.39L1375.60 442.75" stroke="#00ff00" stroke-width="2.10"/>
<path d="M1384.90 459.31L1401.09 459.31M1392.99 452.20L1392.99 466.41M1387.67 453.98L1398.32 464.63M1387.67 464.63L1398.32 453.98" stroke="#00ff00" stroke-width="2.10"/>
<path d="M1407.62 466.80L1423.81 466.80M1415.71 459.69L1415.71 473.90M1410.39 461.47L1421.04 472.12M1410.39 472.12L1421.04 461.47" stroke="#00ff00" stroke-width="2.10"/>
<path d="M1430.34 473.75L1446.53 473.75M1438.44 466.65L1438.44 480.85M1433.11 468.43L1443.76 479.07M1433.11 479.07L1443.76 468.43" stroke="#00ff00" stroke-width="2.10"/>
<path d="M1453.06 481.24L1469.25 481.24M1461.16 474.14L1461.16 488.34M1455.83 475.92L1466.48 486.56M1455.83 486.56L1466.48 475.92" stroke="#00ff00" stroke-width="2.10"/>
<path d="M1475.79 485.52L1491.97 485.52M1483.88 478.42L1483.88 492.62M1478.55 480.19L1489.20 490.84M1478.55 490.84L1489.20 480.19" stroke="#00ff00" stroke-width="2.10"/>
<path d="M1498.51 489.26L1514.70 489.26M1506.60 482.16L1506.60 496.37M1501.28 483.94L1511.93 494.59M1501.28 494.59L1511.93 483.94" stroke="#00ff00" stroke-width="2.10"/>
<path d="M1521.23 491.94L1537.42 491.94M1529.32 484.84L1529.32 499.04M1524.00 486.62L1534.65 497.26M1524.00 497.26L1534.65 486.62" stroke="#00ff00" stroke-width="2.10"/>
<path d="M1543.95 495.15L1560.14 495.15M1552.04 488.05L1552.04 502.25M1546.72 489.82L1557.37 500.47M1546.72 500.47L1557.37 489.82" stroke="#00ff00" stroke-width="2.10"/>
<path d="M1566.67 497.82L1582.86 497.82M1574.77 490.72L1574.77 504.93M1569.44 492.50L1580.09 503.15M1569.44 503.15L1580.09 492.50" stroke="#00ff00" stroke-width="2.10"/>
<path d="M1589.39 500.50L1605.58 500.50M1597.49 493.40L1597.49 507.60M1592.16 495.18L1602.81 505.82M1592.16 505.82L1602.81 495.18" stroke="#00ff00" stroke-width="2.10"/>
<path d="M1612.12 502.11L1628.30 502.11M1620.21 495.00L1620.21 509.21M1614.89 496.78L1625.54 507.43M1614.89 507.43L1625.54 496.78" stroke="#00ff00" stroke-width="2.10"/>
<path d="M1634.84 503.18L1651.03 503.18M1642.93 496.07L1642.93 510.28M1637.61 497.85L1648.26 508.50M1637.61 508.50L1648.26 497.85" stroke="#00ff00" stroke-width="2.10"/>
<path d="M1657.56 504.78L1673.75 504.78M1665.65 497.68L1665.65 511.88M1660.33 499.45L1670.98 510.10M1660.33 510.10L1670.98 499.45" stroke="#00ff00" stroke-width="2.10"/>
<path d="M1680.28 504.78L1696.47 504.78M1688.38 497.68L1688.38 511.88M1683.05 499.45L1693.70 510.10M1683.05 510.10L1693.70 499.45" stroke="#00ff00" stroke-width="2.10"/>
<path d="M1703.00 505.85L1719.19 505.85M1711.10 498.75L1711.10 512.95M1705.77 500.53L1716.42 511.18M1705.77 511.18L1716.42 500.53" stroke="#00ff00" stroke-width="2.10"/>
<polyline points="984.00,554.00 1007.14,441.65 1030.28,200.90 1053.41,77.85 1076.55,72.50 1099.69,112.62 1122.83,161.31 1145.97,210.53 1169.11,254.94 1192.24,292.92 1215.38,323.95 1238.52,348.56 1261.66,371.03 1284.80,387.62 1307.94,398.31 1331.07,413.83 1354.21,427.20 1377.35,438.44 1400.49,447.53 1423.63,454.49 1446.77,462.51 1469.90,468.40 1493.04,474.28 1516.18,479.63 1539.32,484.45 1562.46,489.26 1585.60,494.08 1608.73,498.36 1631.87,501.57 1655.01,503.71 1678.15,505.85 1701.29,507.45 1724.43,507.99" fill="none" stroke="#ff00ff" stroke-width="2.60" stroke-dasharray="0.01 5.15" stroke-linecap="round" stroke-linejoin="round"/>
<rect x="979.30" y="549.30" width="9.40" height="9.40" fill="none" stroke="#ff00ff" stroke-width="2.30" stroke-linejoin="round"/>
<rect x="1002.44" y="436.95" width="9.40" height="9.40" fill="none" stroke="#ff00ff" stroke-width="2.30" stroke-linejoin="round"/>
<rect x="1025.58" y="196.20" width="9.40" height="9.40" fill="none" stroke="#ff00ff" stroke-width="2.30" stroke-linejoin="round"/>
<rect x="1048.71" y="73.15" width="9.40" height="9.40" fill="none" stroke="#ff00ff" stroke-width="2.30" stroke-linejoin="round"/>
<rect x="1071.85" y="67.80" width="9.40" height="9.40" fill="none" stroke="#ff00ff" stroke-width="2.30" stroke-linejoin="round"/>
<rect x="1094.99" y="107.92" width="9.40" height="9.40" fill="none" stroke="#ff00ff" stroke-width="2.30" stroke-linejoin="round"/>
<rect x="1118.13" y="156.61" width="9.40" height="9.40" fill="none" stroke="#ff00ff" stroke-width="2.30" stroke-linejoin="round"/>
<rect x="1141.27" y="205.83" width="9.40" height="9.40" fill="none" stroke="#ff00ff" stroke-width="2.30" stroke-linejoin="round"/>
<rect x="1164.41" y="250.24" width="9.40" height="9.40" fill="none" stroke="#ff00ff" stroke-width="2.30" stroke-linejoin="round"/>
<rect x="1187.54" y="288.22" width="9.40" height="9.40" fill="none" stroke="#ff00ff" stroke-width="2.30" stroke-linejoin="round"/>
<rect x="1210.68" y="319.25" width="9.40" height="9.40" fill="none" stroke="#ff00ff" stroke-width="2.30" stroke-linejoin="round"/>
<rect x="1233.82" y="343.86" width="9.40" height="9.40" fill="none" stroke="#ff00ff" stroke-width="2.30" stroke-linejoin="round"/>
<rect x="1256.96" y="366.33" width="9.40" height="9.40" fill="none" stroke="#ff00ff" stroke-width="2.30" stroke-linejoin="round"/>
<rect x="1280.10" y="382.92" width="9.40" height="9.40" fill="none" stroke="#ff00ff" stroke-width="2.30" stroke-linejoin="round"/>
<rect x="1303.24" y="393.62" width="9.40" height="9.40" fill="none" stroke="#ff00ff" stroke-width="2.30" stroke-linejoin="round"/>
<rect x="1326.37" y="409.13" width="9.40" height="9.40" fill="none" stroke="#ff00ff" stroke-width="2.30" stroke-linejoin="round"/>
<rect x="1349.51" y="422.50" width="9.40" height="9.40" fill="none" stroke="#ff00ff" stroke-width="2.30" stroke-linejoin="round"/>
<rect x="1372.65" y="433.74" width="9.40" height="9.40" fill="none" stroke="#ff00ff" stroke-width="2.30" stroke-linejoin="round"/>
<rect x="1395.79" y="442.83" width="9.40" height="9.40" fill="none" stroke="#ff00ff" stroke-width="2.30" stroke-linejoin="round"/>
<rect x="1418.93" y="449.79" width="9.40" height="9.40" fill="none" stroke="#ff00ff" stroke-width="2.30" stroke-linejoin="round"/>
<rect x="1442.07" y="457.81" width="9.40" height="9.40" fill="none" stroke="#ff00ff" stroke-width="2.30" stroke-linejoin="round"/>
<rect x="1465.20" y="463.70" width="9.40" height="9.40" fill="none" stroke="#ff00ff" stroke-width="2.30" stroke-linejoin="round"/>
<rect x="1488.34" y="469.58" width="9.40" height="9.40" fill="none" stroke="#ff00ff" stroke-width="2.30" stroke-linejoin="round"/>
<rect x="1511.48" y="474.94" width="9.40" height="9.40" fill="none" stroke="#ff00ff" stroke-width="2.30" stroke-linejoin="round"/>
<rect x="1534.62" y="479.75" width="9.40" height="9.40" fill="none" stroke="#ff00ff" stroke-width="2.30" stroke-linejoin="round"/>
<rect x="1557.76" y="484.56" width="9.40" height="9.40" fill="none" stroke="#ff00ff" stroke-width="2.30" stroke-linejoin="round"/>
<rect x="1580.90" y="489.38" width="9.40" height="9.40" fill="none" stroke="#ff00ff" stroke-width="2.30" stroke-linejoin="round"/>
<rect x="1604.03" y="493.66" width="9.40" height="9.40" fill="none" stroke="#ff00ff" stroke-width="2.30" stroke-linejoin="round"/>
<rect x="1627.17" y="496.87" width="9.40" height="9.40" fill="none" stroke="#ff00ff" stroke-width="2.30" stroke-linejoin="round"/>
<rect x="1650.31" y="499.01" width="9.40" height="9.40" fill="none" stroke="#ff00ff" stroke-width="2.30" stroke-linejoin="round"/>
<rect x="1673.45" y="501.15" width="9.40" height="9.40" fill="none" stroke="#ff00ff" stroke-width="2.30" stroke-linejoin="round"/>
<rect x="1696.59" y="502.75" width="9.40" height="9.40" fill="none" stroke="#ff00ff" stroke-width="2.30" stroke-linejoin="round"/>
<rect x="1719.73" y="503.29" width="9.40" height="9.40" fill="none" stroke="#ff00ff" stroke-width="2.30" stroke-linejoin="round"/>
<polyline points="984.00,554.00 1007.14,444.86 1030.28,210.00 1053.41,74.64 1076.55,61.26 1099.69,98.72 1122.83,147.40 1145.97,195.01 1169.11,238.35 1192.24,275.26 1215.38,305.23 1238.52,333.58 1261.66,359.26 1284.80,381.73 1307.94,404.20 1331.07,426.13 1354.21,440.58 1377.35,427.74 1400.49,447.53 1423.63,452.88 1446.77,462.51 1469.90,467.87 1493.04,474.28 1516.18,479.63 1539.32,484.45 1562.46,489.26 1585.60,494.62 1608.73,498.89 1631.87,502.11 1655.01,504.78 1678.15,506.38 1701.29,508.52 1724.43,509.06" fill="none" stroke="#0000ff" stroke-width="2.60" stroke-dasharray="0.01 5.15" stroke-linecap="round" stroke-linejoin="round"/>
<circle cx="984.00" cy="554.00" r="6.00" fill="none" stroke="#0000ff" stroke-width="2.40"/>
<circle cx="1007.14" cy="444.86" r="6.00" fill="none" stroke="#0000ff" stroke-width="2.40"/>
<circle cx="1030.28" cy="210.00" r="6.00" fill="none" stroke="#0000ff" stroke-width="2.40"/>
<circle cx="1053.41" cy="74.64" r="6.00" fill="none" stroke="#0000ff" stroke-width="2.40"/>
<circle cx="1076.55" cy="61.26" r="6.00" fill="none" stroke="#0000ff" stroke-width="2.40"/>
<circle cx="1099.69" cy="98.72" r="6.00" fill="none" stroke="#0000ff" stroke-width="2.40"/>
<circle cx="1122.83" cy="147.40" r="6.00" fill="none" stroke="#0000ff" stroke-width="2.40"/>
<circle cx="1145.97" cy="195.01" r="6.00" fill="none" stroke="#0000ff" stroke-width="2.40"/>
<circle cx="1169.11" cy="238.35" r="6.00" fill="none" stroke="#0000ff" stroke-width="2.40"/>
<circle cx="1192.24" cy="275.26" r="6.00" fill="none" stroke="#0000ff" stroke-width="2.40"/>
<circle cx="1215.38" cy="305.23" r="6.00" fill="none" stroke="#0000ff" stroke-width="2.40"/>
<circle cx="1238.52" cy="333.58" r="6.00" fill="none" stroke="#0000ff" stroke-width="2.40"/>
<circle cx="1261.66" cy="359.26" r="6.00" fill="none" stroke="#0000ff" stroke-width="2.40"/>
<circle cx="1284.80" cy="381.73" r="6.00" fill="none" stroke="#0000ff" stroke-width="2.40"/>
<circle cx="1307.94" cy="404.20" r="6.00" fill="none" stroke="#0000ff" stroke-width="2.40"/>
<circle cx="1331.07" cy="426.13" r="6.00" fill="none" stroke="#0000ff" stroke-width="2.40"/>
<circle cx="1354.21" cy="440.58" r="6.00" fill="none" stroke="#0000ff" stroke-width="2.40"/>
<circle cx="1377.35" cy="427.74" r="6.00" fill="none" stroke="#0000ff" stroke-width="2.40"/>
<circle cx="1400.49" cy="447.53" r="6.00" fill="none" stroke="#0000ff" stroke-width="2.40"/>
<circle cx="1423.63" cy="452.88" r="6.00" fill="none" stroke="#0000ff" stroke-width="2.40"/>
<circle cx="1446.77" cy="462.51" r="6.00" fill="none" stroke="#0000ff" stroke-width="2.40"/>
<circle cx="1469.90" cy="467.87" r="6.00" fill="none" stroke="#0000ff" stroke-width="2.40"/>
<circle cx="1493.04" cy="474.28" r="6.00" fill="none" stroke="#0000ff" stroke-width="2.40"/>
<circle cx="1516.18" cy="479.63" r="6.00" fill="none" stroke="#0000ff" stroke-width="2.40"/>
<circle cx="1539.32" cy="484.45" r="6.00" fill="none" stroke="#0000ff" stroke-width="2.40"/>
<circle cx="1562.46" cy="489.26" r="6.00" fill="none" stroke="#0000ff" stroke-width="2.40"/>
<circle cx="1585.60" cy="494.62" r="6.00" fill="none" stroke="#0000ff" stroke-width="2.40"/>
<circle cx="1608.73" cy="498.89" r="6.00" fill="none" stroke="#0000ff" stroke-width="2.40"/>
<circle cx="1631.87" cy="502.11" r="6.00" fill="none" stroke="#0000ff" stroke-width="2.40"/>
<circle cx="1655.01" cy="504.78" r="6.00" fill="none" stroke="#0000ff" stroke-width="2.40"/>
<circle cx="1678.15" cy="506.38" r="6.00" fill="none" stroke="#0000ff" stroke-width="2.40"/>
<circle cx="1701.29" cy="508.52" r="6.00" fill="none" stroke="#0000ff" stroke-width="2.40"/>
<circle cx="1724.43" cy="509.06" r="6.00" fill="none" stroke="#0000ff" stroke-width="2.40"/>
<polyline points="984.00,554.00 1007.14,436.84 1030.28,200.90 1053.41,88.01 1076.55,86.94 1099.69,123.86 1122.83,172.01 1145.97,216.42 1169.11,258.68 1192.24,295.06 1215.38,325.56 1238.52,349.63 1261.66,372.10 1284.80,388.15 1307.94,398.31 1331.07,413.83 1354.21,427.74 1377.35,438.44 1400.49,448.07 1423.63,455.02 1446.77,463.05 1469.90,468.94 1493.04,474.82 1516.18,480.17 1539.32,484.99 1562.46,489.80 1585.60,494.62 1608.73,498.89 1631.87,502.11 1655.01,504.78 1678.15,506.92 1701.29,508.52 1724.43,509.60" fill="none" stroke="#ff0000" stroke-width="2.60" stroke-dasharray="0.01 5.15" stroke-linecap="round" stroke-linejoin="round"/>
<path d="M978.70 548.70L989.30 559.30M978.70 559.30L989.30 548.70" stroke="#ff0000" stroke-width="2.20"/>
<path d="M1001.84 431.54L1012.44 442.14M1001.84 442.14L1012.44 431.54" stroke="#ff0000" stroke-width="2.20"/>
<path d="M1024.98 195.60L1035.58 206.20M1024.98 206.20L1035.58 195.60" stroke="#ff0000" stroke-width="2.20"/>
<path d="M1048.11 82.71L1058.71 93.31M1048.11 93.31L1058.71 82.71" stroke="#ff0000" stroke-width="2.20"/>
<path d="M1071.25 81.64L1081.85 92.24M1071.25 92.24L1081.85 81.64" stroke="#ff0000" stroke-width="2.20"/>
<path d="M1094.39 118.56L1104.99 129.16M1094.39 129.16L1104.99 118.56" stroke="#ff0000" stroke-width="2.20"/>
<path d="M1117.53 166.71L1128.13 177.31M1117.53 177.31L1128.13 166.71" stroke="#ff0000" stroke-width="2.20"/>
<path d="M1140.67 211.12L1151.27 221.72M1140.67 221.72L1151.27 211.12" stroke="#ff0000" stroke-width="2.20"/>
<path d="M1163.81 253.38L1174.41 263.98M1163.81 263.98L1174.41 253.38" stroke="#ff0000" stroke-width="2.20"/>
<path d="M1186.94 289.76L1197.54 300.36M1186.94 300.36L1197.54 289.76" stroke="#ff0000" stroke-width="2.20"/>
<path d="M1210.08 320.25L1220.68 330.86M1210.08 330.86L1220.68 320.25" stroke="#ff0000" stroke-width="2.20"/>
<path d="M1233.22 344.33L1243.82 354.93M1233.22 354.93L1243.82 344.33" stroke="#ff0000" stroke-width="2.20"/>
<path d="M1256.36 366.80L1266.96 377.40M1256.36 377.40L1266.96 366.80" stroke="#ff0000" stroke-width="2.20"/>
<path d="M1279.50 382.85L1290.10 393.45M1279.50 393.45L1290.10 382.85" stroke="#ff0000" stroke-width="2.20"/>
<path d="M1302.64 393.01L1313.24 403.62M1302.64 403.62L1313.24 393.01" stroke="#ff0000" stroke-width="2.20"/>
<path d="M1325.77 408.53L1336.37 419.13M1325.77 419.13L1336.37 408.53" stroke="#ff0000" stroke-width="2.20"/>
<path d="M1348.91 422.44L1359.51 433.04M1348.91 433.04L1359.51 422.44" stroke="#ff0000" stroke-width="2.20"/>
<path d="M1372.05 433.14L1382.65 443.74M1372.05 443.74L1382.65 433.14" stroke="#ff0000" stroke-width="2.20"/>
<path d="M1395.19 442.77L1405.79 453.37M1395.19 453.37L1405.79 442.77" stroke="#ff0000" stroke-width="2.20"/>
<path d="M1418.33 449.72L1428.93 460.32M1418.33 460.32L1428.93 449.72" stroke="#ff0000" stroke-width="2.20"/>
<path d="M1441.47 457.75L1452.07 468.35M1441.47 468.35L1452.07 457.75" stroke="#ff0000" stroke-width="2.20"/>
<path d="M1464.60 463.63L1475.20 474.24M1464.60 474.24L1475.20 463.63" stroke="#ff0000" stroke-width="2.20"/>
<path d="M1487.74 469.52L1498.34 480.12M1487.74 480.12L1498.34 469.52" stroke="#ff0000" stroke-width="2.20"/>
<path d="M1510.88 474.87L1521.48 485.47M1510.88 485.47L1521.48 474.87" stroke="#ff0000" stroke-width="2.20"/>
<path d="M1534.02 479.69L1544.62 490.29M1534.02 490.29L1544.62 479.69" stroke="#ff0000" stroke-width="2.20"/>
<path d="M1557.16 484.50L1567.76 495.10M1557.16 495.10L1567.76 484.50" stroke="#ff0000" stroke-width="2.20"/>
<path d="M1580.30 489.31L1590.90 499.92M1580.30 499.92L1590.90 489.31" stroke="#ff0000" stroke-width="2.20"/>
<path d="M1603.43 493.59L1614.03 504.19M1603.43 504.19L1614.03 493.59" stroke="#ff0000" stroke-width="2.20"/>
<path d="M1626.57 496.81L1637.17 507.41M1626.57 507.41L1637.17 496.81" stroke="#ff0000" stroke-width="2.20"/>
<path d="M1649.71 499.48L1660.31 510.08M1649.71 510.08L1660.31 499.48" stroke="#ff0000" stroke-width="2.20"/>
<path d="M1672.85 501.62L1683.45 512.22M1672.85 512.22L1683.45 501.62" stroke="#ff0000" stroke-width="2.20"/>
<path d="M1695.99 503.22L1706.59 513.82M1695.99 513.82L1706.59 503.22" stroke="#ff0000" stroke-width="2.20"/>
<path d="M1719.13 504.30L1729.73 514.89M1719.13 514.89L1729.73 504.30" stroke="#ff0000" stroke-width="2.20"/>
<polyline points="984.00,554.00 1007.14,440.58 1030.28,194.48 1053.41,86.41 1076.55,85.34 1099.69,122.79 1122.83,166.12 1145.97,211.60 1169.11,254.40 1192.24,291.85 1215.38,323.42 1238.52,348.56 1261.66,373.17 1284.80,388.15 1307.94,399.92 1331.07,414.90 1354.21,428.27 1377.35,438.98 1400.49,448.07 1423.63,455.56 1446.77,463.05 1469.90,468.94 1493.04,474.82 1516.18,480.17 1539.32,484.99 1562.46,489.80 1585.60,494.62 1608.73,498.89 1631.87,502.11 1655.01,504.78 1678.15,506.92 1701.29,508.52 1724.43,509.60" fill="none" stroke="#000" stroke-width="2.2" stroke-linejoin="round"/></g>
<rect x="1484.5" y="29.5" width="253" height="192.5" fill="#fff" stroke="#8c8c8c" stroke-width="1.4"/>
<line x1="1490.60" y1="49.90" x2="1527.60" y2="49.90" stroke="#00ff00" stroke-width="2.50" stroke-dasharray="0.01 5.15" stroke-linecap="round"/>
<path d="M1500.55 49.90L1516.05 49.90M1508.30 43.10L1508.30 56.70M1503.20 44.80L1513.40 55.00M1503.20 55.00L1513.40 44.80" stroke="#00ff00" stroke-width="2.20"/>
<line x1="1490.60" y1="88.00" x2="1527.60" y2="88.00" stroke="#ff00ff" stroke-width="2.50" stroke-dasharray="0.01 5.15" stroke-linecap="round"/>
<rect x="1503.20" y="82.90" width="10.20" height="10.20" fill="none" stroke="#ff00ff" stroke-width="2.50" stroke-linejoin="round"/>
<line x1="1490.60" y1="126.10" x2="1527.60" y2="126.10" stroke="#0000ff" stroke-width="2.50" stroke-dasharray="0.01 5.15" stroke-linecap="round"/>
<circle cx="1508.30" cy="126.10" r="6.30" fill="none" stroke="#0000ff" stroke-width="2.70"/>
<line x1="1490.60" y1="164.20" x2="1527.60" y2="164.20" stroke="#ff0000" stroke-width="2.50" stroke-dasharray="0.01 5.15" stroke-linecap="round"/>
<path d="M1503.50 159.40L1513.10 169.00M1503.50 169.00L1513.10 159.40" stroke="#ff0000" stroke-width="2.80"/>
<line x1="1489.40" y1="202.30" x2="1527.60" y2="202.30" stroke="#000" stroke-width="2.80"/>
<text transform="translate(1531.82 57.33) scale(1.0279 1)" font-size="29.96" font-family='"Liberation Serif", serif' fill="#000">DA</text>
<text transform="translate(1587.75 57.80) scale(0.9872 1)" font-size="29.17" font-family='"Liberation Serif", serif' fill="#000">1</text>
<text transform="translate(1531.82 95.43) scale(1.0279 1)" font-size="29.96" font-family='"Liberation Serif", serif' fill="#000">DA</text>
<text transform="translate(1589.20 95.90) scale(0.8776 1)" font-size="29.17" font-family='"Liberation Serif", serif' fill="#000">2</text>
<text transform="translate(1531.82 133.53) scale(1.0279 1)" font-size="29.96" font-family='"Liberation Serif", serif' fill="#000">DA</text>
<text transform="translate(1588.80 133.55) scale(0.8980 1)" font-size="28.51" font-family='"Liberation Serif", serif' fill="#000">3</text>
<text transform="translate(1531.82 171.63) scale(1.0279 1)" font-size="29.96" font-family='"Liberation Serif", serif' fill="#000">DA</text>
<text transform="translate(1589.64 172.10) scale(0.7898 1)" font-size="29.17" font-family='"Liberation Serif", serif' fill="#000">4</text>
<text transform="translate(1531.80 209.73) scale(1.0711 1)" font-size="29.96" font-family='"Liberation Serif", serif' fill="#000">DNS</text>
<text transform="translate(1605.62 209.73) scale(1.0451 1)" font-size="29.96" font-family='"Liberation Serif", serif' fill="#000">65x65x65</text>
<text transform="translate(1347.30 622.71) scale(1.0562 1)" font-size="30.11" font-family='"Liberation Serif", serif' fill="#000">y</text>
<text transform="translate(1365.54 614.43) scale(1.0333 1)" font-size="30.14" font-family='"Liberation Serif", serif' fill="#000">+</text>
<g transform="translate(934.30 345.00) rotate(-90)"><text transform="translate(-7.59 4.21) scale(0.4371 1)" font-size="33.99" font-family='"Liberation Serif", "Noto Serif CJK SC", serif' fill="#000">〈</text>
<text transform="translate(10.20 -0.48) scale(1.0400 1)" font-size="30.97" font-family='"Liberation Serif", serif' fill="#000">u</text>
<text transform="translate(28.50 17.10) scale(0.4444 1)" font-size="57.60" font-family='"DejaVu Serif", "Liberation Serif", serif' fill="#000">′</text>
<text transform="translate(34.82 -8.15) scale(0.9701 1)" font-size="30.35" font-family='"Liberation Serif", serif' fill="#000">+</text>
<text transform="translate(28.00 8.10) scale(1.0376 1)" font-size="21.97" font-family='"Liberation Serif", serif' fill="#000">x</text>
<text transform="translate(56.20 -0.48) scale(0.9400 1)" font-size="30.97" font-family='"Liberation Serif", serif' fill="#000">u</text>
<text transform="translate(73.51 19.45) scale(0.4123 1)" font-size="60.80" font-family='"DejaVu Serif", "Liberation Serif", serif' fill="#000">′</text>
<text transform="translate(79.60 -8.15) scale(1.0544 1)" font-size="30.35" font-family='"Liberation Serif", serif' fill="#000">+</text>
<text transform="translate(73.50 8.10) scale(0.9830 1)" font-size="21.97" font-family='"Liberation Serif", serif' fill="#000">x</text>
<text transform="translate(100.09 4.21) scale(0.4841 1)" font-size="33.99" font-family='"Liberation Serif", "Noto Serif CJK SC", serif' fill="#000">〉</text>
<text transform="translate(113.10 4.06) scale(0.9906 1)" font-size="21.89" font-family='"Liberation Serif", serif' fill="#000">t</text></g>
</svg>
</body></html>
